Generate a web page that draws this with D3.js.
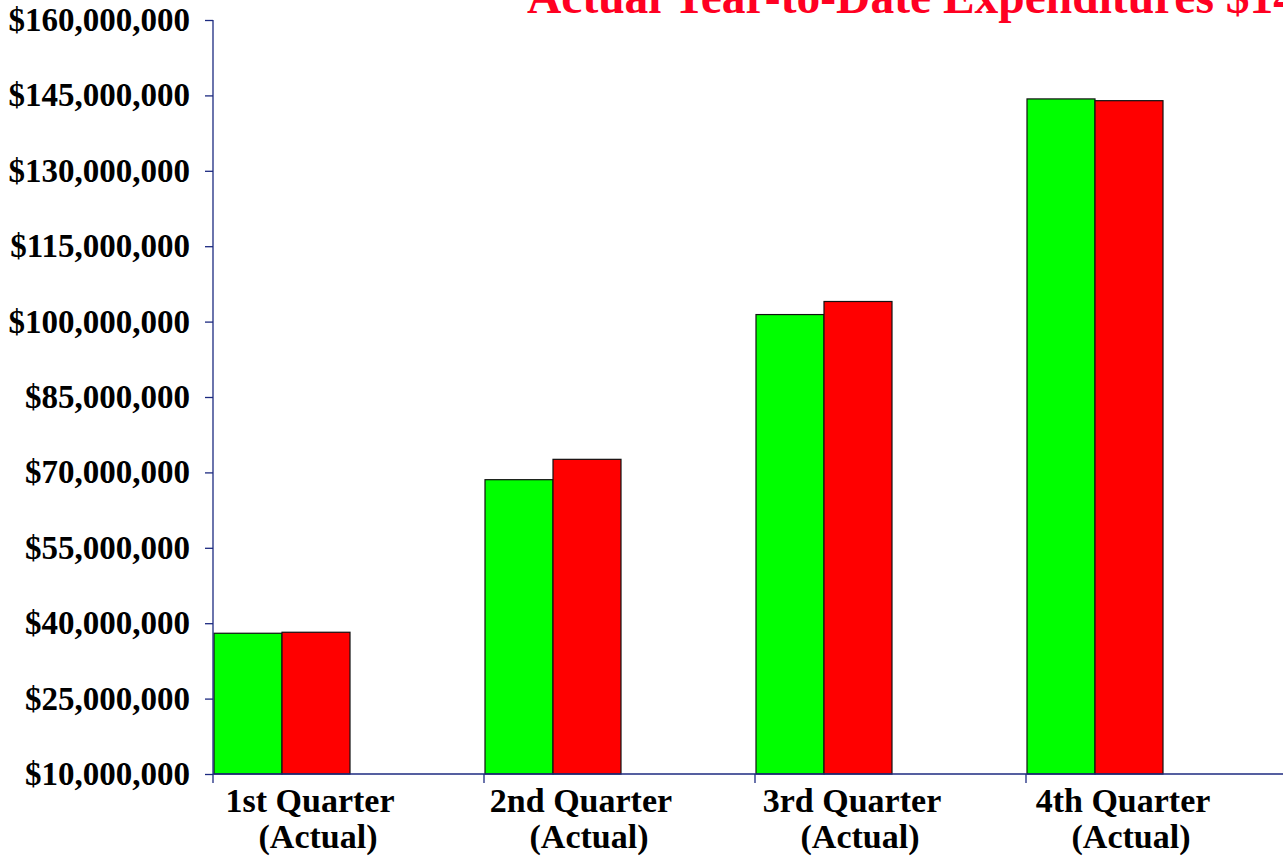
<!DOCTYPE html>
<html>
<head>
<meta charset="utf-8">
<script src="https://cdn.jsdelivr.net/npm/d3@7"></script>
<style>
  html, body { margin: 0; padding: 0; background: #fff; overflow: hidden; }
  svg { display: block; }
  text { font-family: "Liberation Serif", "Times New Roman", serif; font-weight: bold; }
</style>
</head>
<body>
<script>
// Quarterly cumulative expenditures: budgeted (green) vs actual (red)
const quarters = ["1st Quarter", "2nd Quarter", "3rd Quarter", "4th Quarter"];
const quarterNotes = ["(Actual)", "(Actual)", "(Actual)", "(Actual)"];
const budgetValues = [38000000, 68550000, 101400000, 144300000];
const actualValues = [38200000, 72600000, 104000000, 143950000];
const yTicks = [10000000, 25000000, 40000000, 55000000, 70000000, 85000000,
                100000000, 115000000, 130000000, 145000000, 160000000];
const seriesColors = ["#00ff00", "#ff0000"];

const W = 1283, H = 858;
const plotLeft = 213, plotBottom = 774, plotTop = 20;
const bandW = 271;

const svg = d3.select("body").append("svg").attr("width", W).attr("height", H);

const x = d3.scaleBand().domain(quarters)
  .range([plotLeft, plotLeft + bandW * quarters.length]).paddingInner(0).paddingOuter(0);
const y = d3.scaleLinear().domain([10000000, 160000000]).range([plotBottom, plotTop]);
const inner = d3.scaleBand().domain([0, 1]).range([0, 136]);

const fmt = v => "$" + d3.format(",")(v);

// Bars
const groups = svg.append("g").selectAll("g").data(quarters).join("g")
  .attr("transform", d => `translate(${x(d) + 1},0)`);
groups.each(function(q, i) {
  const vals = [budgetValues[i], actualValues[i]];
  d3.select(this).selectAll("rect").data(vals).join("rect")
    .attr("x", (d, j) => inner(j))
    .attr("y", d => y(d))
    .attr("width", inner.bandwidth())
    .attr("height", d => plotBottom - y(d))
    .attr("fill", (d, j) => seriesColors[j])
    .attr("stroke", "#111")
    .attr("stroke-width", 1.2);
});

const axisColor = "#1c2a80";

// Y axis
const yAxis = svg.append("g").attr("transform", `translate(${plotLeft},0)`)
  .call(d3.axisLeft(y).tickValues(yTicks).tickFormat(fmt).tickSize(8).tickPadding(15));
yAxis.select(".domain").attr("stroke", axisColor).attr("stroke-width", 1.3)
  .attr("d", `M0,${plotTop}V${plotBottom}`);
yAxis.selectAll(".tick line").attr("stroke", axisColor).attr("stroke-width", 1.3);
yAxis.selectAll(".tick text").attr("fill", "#000").attr("font-size", 33)
  .attr("font-family", "Liberation Serif, serif").attr("font-weight", "bold");

// X axis line and ticks at each category start
const xAxisG = svg.append("g");
xAxisG.append("line").attr("x1", plotLeft).attr("x2", W).attr("y1", plotBottom).attr("y2", plotBottom)
  .attr("stroke", axisColor).attr("stroke-width", 1.3);
xAxisG.selectAll("line.tick").data(quarters).join("line").attr("class", "tick")
  .attr("x1", d => x(d)).attr("x2", d => x(d))
  .attr("y1", plotBottom).attr("y2", plotBottom + 9)
  .attr("stroke", axisColor).attr("stroke-width", 1.3);

// Category labels (two lines)
const lab = xAxisG.selectAll("text").data(quarters).join("text")
  .attr("text-anchor", "middle").attr("font-size", 34).attr("fill", "#000");
lab.append("tspan").attr("x", d => x(d) + 97).attr("y", 812).text(d => d);
lab.append("tspan").attr("x", d => x(d) + 105).attr("y", 848).text((d, i) => quarterNotes[i]);

// Title
svg.append("text").attr("x", 527).attr("y", 13)
  .attr("font-size", 47.5).attr("fill", "#ff0022")
  .text("Actual Year-to-Date Expenditures " + fmt(actualValues[3]));
</script>
</body>
</html>
